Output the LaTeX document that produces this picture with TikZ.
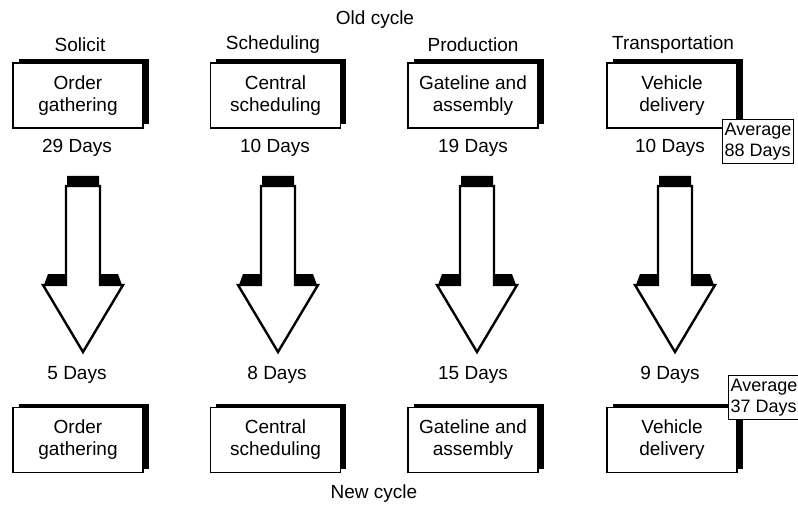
\documentclass[tikz,border=0pt]{standalone}
\usepackage{fontspec}
\setmainfont{Liberation Sans}
\usetikzlibrary{shadows}
\begin{document}
\begin{tikzpicture}[x=1pt,y=-1pt,
  txt/.style={font=\fontsize{19}{22}\selectfont, inner sep=0pt, align=center},
  stagebox/.style={draw, fill=white, line width=1.1pt, minimum width=130pt,
    minimum height=65pt, inner sep=0pt, align=center,
    font=\fontsize{19}{22}\selectfont,
    drop shadow={fill=black, opacity=1, shadow xshift=5.5pt, shadow yshift=3.5pt}},
  avgbox/.style={draw, fill=white, line width=1.1pt, anchor=north west,
    minimum height=44pt, minimum width=71pt, inner xsep=1.5pt, inner ysep=0pt,
    align=left, font=\fontsize{18}{21}\selectfont},
  bigarrow/.pic={
    \fill (-16,176) -- (16,176) -- (16,274) -- (35,274) -- (39,285)
      -- (-39,285) -- (-35,274) -- (-16,274) -- cycle;
    \draw[line width=2.4pt, fill=white, line join=miter]
      (-17,186) -- (17,186) -- (17,285) -- (40,285) -- (0,352)
      -- (-40,285) -- (-17,285) -- cycle;
  }]
\useasboundingbox (0,0) rectangle (798,505);

% titles
\node[txt] (old) at (375,20) {Old cycle};
\node[txt] (new) at (374,494) {New cycle};

% stage headings
\node[txt] (h1) at (80,45) {Solicit};
\node[txt] (h2) at (273,45) {Scheduling};
\node[txt] (h3) at (473,45) {Production};
\node[txt] (h4) at (673,45) {Transportation};

% old cycle stages
\node[stagebox] (o1) at (78,95.5) {Order\\gathering};
\node[stagebox] (o2) at (275.5,95.5) {Central\\scheduling};
\node[stagebox] (o3) at (473,95.5) {Gateline and\\assembly};
\node[stagebox] (o4) at (672,95.5) {Vehicle\\delivery};

\node[txt] (od1) at (77,148) {29 Days};
\node[txt] (od2) at (275,148) {10 Days};
\node[txt] (od3) at (473,148) {19 Days};
\node[txt] (od4) at (670,148) {10 Days};

\node[avgbox] (oavg) at (722,119) {Average\\88 Days};

% improvement arrows
\pic at (83,0) {bigarrow};
\pic at (278,0) {bigarrow};
\pic at (477,0) {bigarrow};
\pic at (675,0) {bigarrow};

% new cycle stages
\node[txt] (nd1) at (77,375) {5 Days};
\node[txt] (nd2) at (277,375) {8 Days};
\node[txt] (nd3) at (473,375) {15 Days};
\node[txt] (nd4) at (670,375) {9 Days};

\node[stagebox] (n1) at (78,440) {Order\\gathering};
\node[stagebox] (n2) at (275.5,440) {Central\\scheduling};
\node[stagebox] (n3) at (473,440) {Gateline and\\assembly};
\node[stagebox] (n4) at (672,440) {Vehicle\\delivery};

\node[avgbox] (navg) at (728,375) {Average\\37 Days};
\end{tikzpicture}
\end{document}
